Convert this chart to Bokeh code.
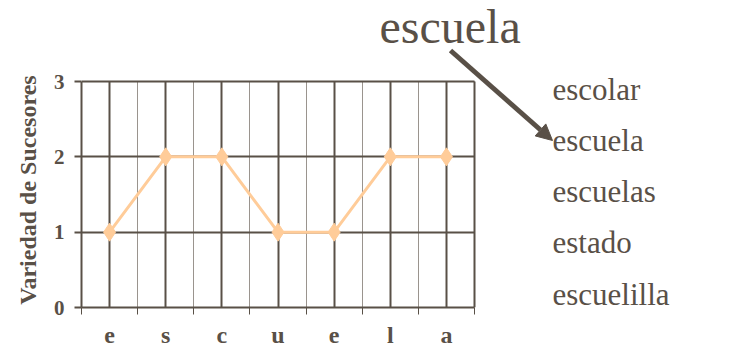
from bokeh.plotting import figure
from bokeh.models import FixedTicker, Label, Arrow, NormalHead, Range1d, Grid
from bokeh.embed import file_html
from bokeh.resources import INLINE

letters = ["e", "s", "c", "u", "e", "l", "a"]
values = [1, 2, 2, 1, 1, 2, 2]
y_ticks = [0, 1, 2, 3]
y_label = "Variedad de Sucesores"
word = "escuela"
successors = ["escolar", "escuela", "escuelas", "estado", "escuelilla"]

DARK = "#595047"
PEACH = "#FFCC99"
SERIF = "Liberation Serif"

# layout (pixels)
W, H = 732, 351
FL, FB = 81, 307            # frame left / bottom
CHART_W, CHART_H = 393, 226  # size of the chart box inside the frame
n = len(letters)
ymax = max(y_ticks)
frame_w = W - FL
frame_h = FB
x_end = n * frame_w / CHART_W
y_end = ymax * frame_h / CHART_H

p = figure(width=W, height=H, output_backend="svg", toolbar_location=None,
           x_range=Range1d(0, x_end), y_range=Range1d(0, y_end),
           min_border_left=FL, min_border_right=0, min_border_top=0,
           min_border_bottom=H - FB)
p.background_fill_color = "white"
p.border_fill_color = "white"
p.outline_line_color = None

xs = [i + 0.5 for i in range(n)]
bounds_x = list(range(n + 1))
p.xaxis.ticker = FixedTicker(ticks=xs, minor_ticks=bounds_x)
p.xaxis.major_label_overrides = {x: l for x, l in zip(xs, letters)}
p.xaxis.bounds = (0, n)
p.yaxis.ticker = FixedTicker(ticks=y_ticks)
p.yaxis.bounds = (0, ymax)

for ax in (p.xaxis, p.yaxis):
    ax.axis_line_color = DARK
    ax.axis_line_width = 2
    ax.major_label_text_font = SERIF
    ax.major_label_text_font_style = "bold"
    ax.major_label_text_color = DARK

p.xaxis.major_label_text_font_size = "24px"
p.xaxis.major_tick_line_color = None
p.xaxis.major_tick_out = 0
p.xaxis.major_tick_in = 0
p.xaxis.minor_tick_line_color = DARK
p.xaxis.minor_tick_line_width = 1
p.xaxis.minor_tick_out = 7
p.xaxis.minor_tick_in = 0
p.xaxis.major_label_standoff = 7

# The frame is taller than the chart box; pad the label's top end with
# non-breaking spaces (0.25em each) so that it sits centred on the chart box.
LABEL_PX = 24
shift = (FB - CHART_H / 2) - FB / 2
pad = "\u00a0" * (int(2 * shift / (0.25 * LABEL_PX)) - 1)

p.yaxis.major_label_text_font_size = "21px"
p.yaxis.major_tick_line_color = DARK
p.yaxis.major_tick_line_width = 2
p.yaxis.major_tick_out = 7
p.yaxis.major_tick_in = 0
p.yaxis.minor_tick_line_color = None
p.yaxis.major_label_standoff = 10
p.yaxis.axis_label = y_label + pad
p.yaxis.axis_label_text_font = SERIF
p.yaxis.axis_label_text_font_style = "bold"
p.yaxis.axis_label_text_font_size = f"{LABEL_PX}px"
p.yaxis.axis_label_text_color = DARK
p.yaxis.axis_label_standoff = 10

p.xgrid.grid_line_color = DARK
p.xgrid.grid_line_width = 2
p.xgrid.minor_grid_line_color = "#9a948e"
p.xgrid.minor_grid_line_width = 1
p.xgrid.bounds = (0, n)
p.xgrid.cross_bounds = (0, ymax)
p.ygrid.grid_line_color = DARK
p.ygrid.grid_line_width = 2
p.ygrid.bounds = (0, ymax)
p.ygrid.cross_bounds = (0, n)

# right border of the chart box
p.add_layout(Grid(dimension=0, ticker=FixedTicker(ticks=[n]), bounds=(0, n + 1),
                  cross_bounds=(0, ymax), grid_line_color=DARK, grid_line_width=2))

p.line(xs, values, line_color=PEACH, line_width=3)
p.scatter(xs, values, marker="diamond", size=18, fill_color=PEACH, line_color=PEACH)

# helper: picture pixel -> frame-relative screen units
def sx(px):
    return px - FL

def sy(py):
    return FB - py

K = 0.36  # baseline correction (fraction of font size)

def add_word(text, left, baseline, size):
    p.add_layout(Label(x=sx(left), y=sy(baseline - K * size), x_units="screen", y_units="screen",
                       text=text, text_font=SERIF, text_font_size=f"{size}px", text_color=DARK,
                       text_baseline="alphabetic"))

add_word(word, 379, 43, 48)
p.add_layout(Arrow(x_start=sx(450), y_start=sy(50), x_end=sx(552), y_end=sy(140),
                   start_units="screen", end_units="screen",
                   line_color=DARK, line_width=5,
                   end=NormalHead(size=16, fill_color=DARK, line_color=DARK)))

for i, w in enumerate(successors):
    add_word(w, 552, 100 + i * 51.2, 31)

open("out.html", "w").write(file_html(p, INLINE))
